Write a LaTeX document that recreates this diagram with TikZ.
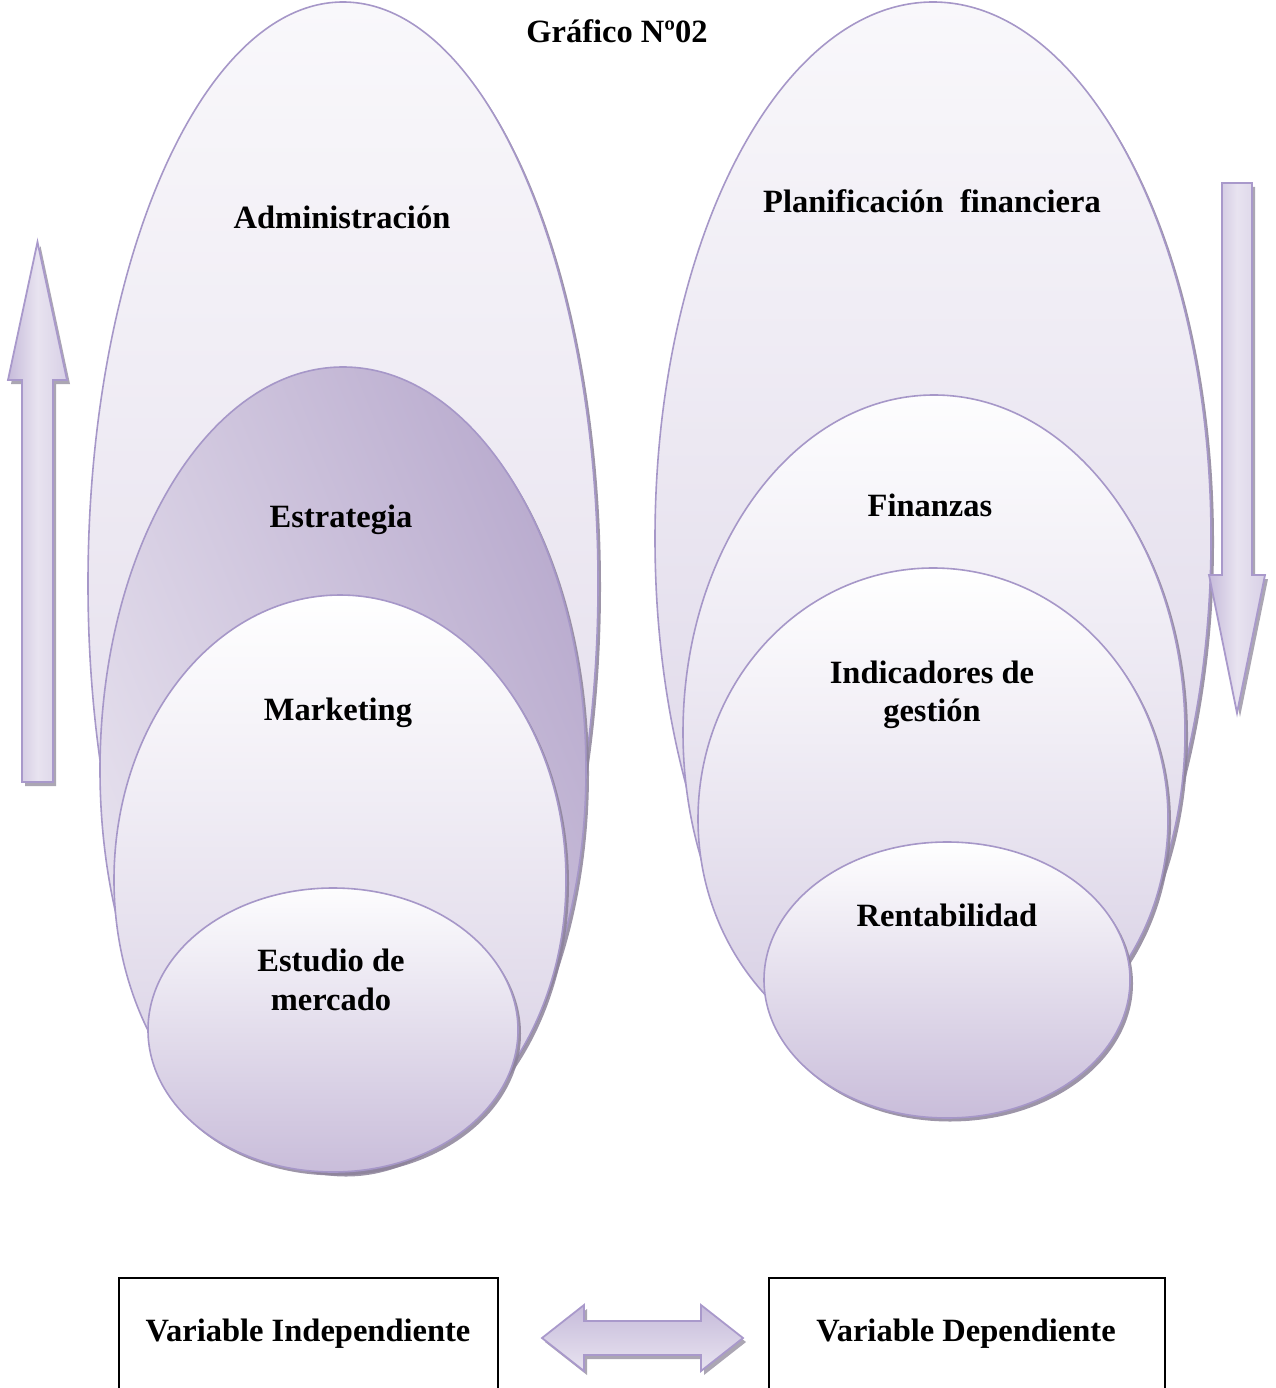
\documentclass[tikz,border=0pt]{standalone}
\usepackage{fontspec}
\setmainfont{Liberation Serif}
\usetikzlibrary{shapes.geometric,shadows}
\definecolor{edgec}{HTML}{A697C8}
\definecolor{shdc}{HTML}{8C8299}
\definecolor{shdg}{HTML}{A29CAB}
\definecolor{arredge}{HTML}{A999CB}
\definecolor{arrD}{HTML}{C6BBDA}
\definecolor{arrM}{HTML}{E8E3F0}
\definecolor{arrL}{HTML}{D8D0E6}
\definecolor{admT}{HTML}{F9F8FB}
\definecolor{admB}{HTML}{DDD5E7}
\definecolor{estD}{HTML}{B9ABCE}
\definecolor{estL}{HTML}{E8E3EF}
\definecolor{mktB}{HTML}{D5CCE2}
\definecolor{stdT}{HTML}{FDFDFE}
\definecolor{stdB}{HTML}{C9BDDA}
\definecolor{plaB}{HTML}{D9D1E5}
\definecolor{finB}{HTML}{D5CCE2}
\definecolor{indB}{HTML}{D3CAE1}
\tikzset{
  ell/.style={ellipse, draw=edgec, line width=1.6pt, inner sep=0pt, outer sep=0pt,
    drop shadow={shadow xshift=3pt, shadow yshift=-3.5pt, fill=shdc, opacity=0.85}},
  lbl/.style={font=\bfseries\fontsize{32.5}{39}\selectfont, anchor=base, inner sep=0pt},
  bigarrow/.style={draw=arredge, line width=1.8pt, line join=miter,
    drop shadow={shadow xshift=3pt, shadow yshift=-4pt, fill=shdg, opacity=0.9}},
  vbox/.style={draw=black, line width=1.5pt, inner sep=0pt, anchor=north west}
}
\begin{document}
\begin{tikzpicture}[x=1pt, y=-1pt]
\useasboundingbox (0,0) rectangle (1275,1388);

% title
\node[lbl] (title) at (617,43) {Gráfico Nº02};

% ---------- left group ----------
\node[ell, minimum width=510pt, minimum height=1163pt, top color=admT, bottom color=admB] (adm) at (343,583.5) {};
\node[ell, minimum width=486pt, minimum height=806pt, top color=estD, bottom color=estL, shading angle=-68] (estr) at (343,770) {};
\node[ell, minimum width=452pt, minimum height=570pt, top color=white, bottom color=mktB] (mkt) at (340,880) {};
\node[ell, minimum width=370pt, minimum height=284pt, top color=stdT, bottom color=stdB] (std) at (333,1030) {};

\node[lbl] (admL) at (342,229) {Administración};
\node[lbl] (estrL) at (341,527) {Estrategia};
\node[lbl] (mktL) at (338,720) {Marketing};
\node[lbl] (stdL1) at (331,971) {Estudio de};
\node[lbl] (stdL2) at (331,1010) {mercado};

% ---------- right group ----------
\node[ell, minimum width=556pt, minimum height=1073pt, top color=admT, bottom color=plaB] (pla) at (933,538.5) {};
\node[ell, minimum width=502pt, minimum height=675pt, top color=stdT, bottom color=finB] (fin) at (934,732.5) {};
\node[ell, minimum width=470pt, minimum height=502pt, top color=white, bottom color=indB] (ind) at (933,819) {};
\node[ell, minimum width=366pt, minimum height=276pt, top color=white, bottom color=stdB] (ren) at (947,980) {};

\node[lbl] (plaL) at (932,213) {Planificación\ \ financiera};
\node[lbl] (finL) at (930,516) {Finanzas};
\node[lbl] (indL1) at (932,683) {Indicadores de};
\node[lbl] (indL2) at (932,721) {gestión};
\node[lbl] (renL) at (947,926) {Rentabilidad};

% ---------- arrows ----------
\path[bigarrow, left color=arrD, right color=arrL, middle color=arrM]
  (22,782) -- (22,380) -- (8,380) -- (37.5,242) -- (67,380) -- (53,380) -- (53,782) -- cycle;
\path[bigarrow, left color=arrD, right color=arrL, middle color=arrM]
  (1222,183) -- (1252,183) -- (1252,575) -- (1265,575) -- (1237,713) -- (1209,575) -- (1222,575) -- cycle;
\path[bigarrow, top color=arrD, bottom color=arrM]
  (542,1338) -- (584,1305) -- (584,1321) -- (701,1321) -- (701,1305) -- (743,1338)
  -- (701,1371) -- (701,1355) -- (584,1355) -- (584,1371) -- cycle;

% ---------- boxes ----------
\node[vbox, minimum width=379pt, minimum height=118pt] (boxL) at (118,1277) {};
\node[vbox, minimum width=396pt, minimum height=118pt] (boxR) at (768,1277) {};
\node[lbl] (boxLt) at (308,1341) {Variable Independiente};
\node[lbl] (boxRt) at (966,1341) {Variable Dependiente};
\end{tikzpicture}
\end{document}
